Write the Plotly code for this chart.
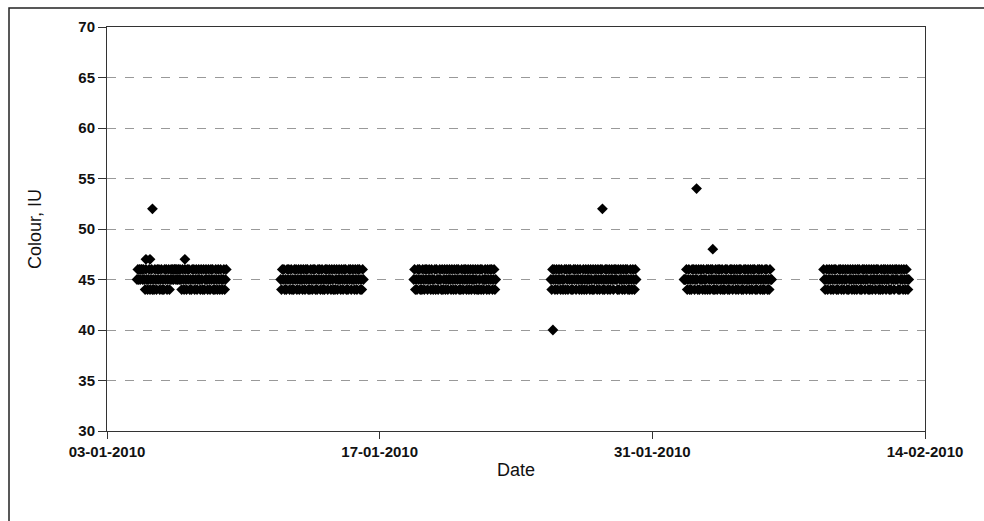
import datetime as dt
import plotly.graph_objects as go

# ---- data: hourly colour readings (IU), one list per weekly run ----
run_starts = ["2010-01-04 13:00", "2010-01-11 22:00", "2010-01-18 18:00",
              "2010-01-25 19:00", "2010-02-01 15:00", "2010-02-08 19:00"]
sample_step_hours = 1

run1 = [45,46,45,46,45,46,46,45,46,45,
        44,46,45,44,45,46,44,45,46,44,
        45,44,46,45,44,46,45,46,44,45,
        46,44,45,44,46,45,46,44,45,46,
        44,45,46,45,46,45,46,46,45,46,
        45,46,45,46,45,44,46,45,44,46,
        45,44,46,45,46,44,45,44,46,45,
        46,44,45,46,44,45,46,45,44,46,
        45,44,46,44,45,46,45,44,46,45,
        44,46,45,46,44,45,44,46,45,44,
        46,45,44,46,45,44,45,46,44,45,46]
run2 = [45,44,46,45,46,44,45,44,46,45,
        46,44,45,46,44,45,44,46,45,46,
        44,45,46,44,45,46,45,44,46,45,
        44,46,45,46,44,45,44,46,45,44,
        46,45,46,44,45,44,46,45,46,44,
        45,46,44,45,44,46,45,46,44,45,
        46,45,44,46,45,44,46,44,45,46,
        44,45,46,45,44,46,45,44,46,45,
        46,44,45,44,46,45,46,44,45,46,
        45,44,46,45,44,46,45,46,44,45,
        44,46,45]
run3 = [45,46,44,45,44,46,45,46,44,45,
        44,46,45,44,46,45,46,44,45,46,
        45,44,46,45,44,45,46,44,46,45,
        44,45,46,45,44,46,44,45,46,44,
        45,46,44,45,46,45,44,46,45,44,
        46,45,44,46,45,46,44,45,44,46,
        45,44,46,45,46,44,45,46,44,45,
        46,44,45,46,45,44,46,45,44,46,
        44,45,46,44,46,45,44,45,46,45,
        44,46,45,44,46,45,46,44,45,46,
        44,45]
run4 = [45,44,46,45,46,44,45,46,44,45,
        46,45,44,46,45,44,45,46,44,46,
        45,44,46,45,46,44,45,44,46,45,
        46,44,45,46,45,44,46,45,44,45,
        46,44,45,46,44,45,46,45,44,46,
        45,44,46,44,45,46,45,44,46,45,
        44,46,45,46,44,45,44,46,45,46,
        44,45,46,44,45,46,45,44,46,45,
        46,45,44,46,44,45,46,45,44,46,
        45,44,46,45,46,44,45,44,46,45,
        44,46,45,44,46,45]
run5 = [45,45,45,46,44,45,46,44,45,44,
        46,45,46,44,45,46,45,44,46,44,
        45,46,45,44,46,45,44,45,46,44,
        46,45,44,46,45,46,44,45,44,46,
        45,44,46,45,46,44,45,46,44,45,
        44,46,45,46,44,45,44,46,45,46,
        44,45,46,45,44,46,45,44,46,45,
        46,44,45,44,46,45,46,44,45,46,
        45,44,46,45,44,46,45,46,44,45,
        44,46,45,46,44,45,46,44,45,44,
        46,45,46,44,45,44,46,45,45]
run6 = [46,45,44,45,46,44,45,46,45,44,
        46,45,44,46,45,46,44,45,44,46,
        45,46,44,45,46,44,45,46,45,44,
        46,44,45,46,45,44,46,45,44,46,
        45,44,46,45,46,44,45,44,46,45,
        46,44,45,46,45,44,46,44,45,46,
        44,45,46,45,44,46,45,46,44,45,
        44,46,45,44,46,45,46,44,45,46,
        45,44,46,44,45,46,45,44,46,45,
        46,45,44,46,44,45,46,45,44,46,
        45,44,46,45,44,45]
runs = [run1, run2, run3, run4, run5, run6]

outlier_dates = ["2010-01-05 00:00", "2010-01-05 05:00", "2010-01-05 08:00",
                 "2010-01-07 00:00", "2010-01-25 21:30", "2010-01-28 10:30",
                 "2010-02-02 06:30", "2010-02-03 02:30"]
outlier_values = [47, 47, 52, 47, 40, 52, 54, 48]

x_tick_dates = ["2010-01-03", "2010-01-17", "2010-01-31", "2010-02-14"]
x_tick_labels = ["03-01-2010", "17-01-2010", "31-01-2010", "14-02-2010"]
y_ticks = [30, 35, 40, 45, 50, 55, 60, 65, 70]

# ---- assemble ----
xs, ys = [], []
for start, vals in zip(run_starts, runs):
    t0 = dt.datetime.strptime(start, "%Y-%m-%d %H:%M")
    for i, v in enumerate(vals):
        xs.append(t0 + dt.timedelta(hours=i * sample_step_hours))
        ys.append(v)
for d, v in zip(outlier_dates, outlier_values):
    xs.append(dt.datetime.strptime(d, "%Y-%m-%d %H:%M"))
    ys.append(v)

fig = go.Figure(go.Scatter(
    x=xs, y=ys, mode="markers",
    marker=dict(symbol="diamond", size=8.3, color="black",
                line=dict(width=0)),
    cliponaxis=False, showlegend=False))

W, H = 984, 521
L, R, T, B = 107, 59, 27, 90
pw, ph = W - L - R, H - T - B

tick_font = dict(family="Liberation Sans, Arial, sans-serif", size=15,
                 color="#111", weight="bold")
title_font = dict(family="Liberation Sans, Arial, sans-serif", size=18,
                  color="#111")

fig.update_layout(
    width=W, height=H,
    margin=dict(l=L, r=R, t=T, b=B, pad=0),
    paper_bgcolor="white", plot_bgcolor="white",
    font=dict(family="Liberation Sans, Arial, sans-serif", color="black"),
    xaxis=dict(
        type="date", range=["2010-01-03", "2010-02-14"],
        tickmode="array", tickvals=x_tick_dates, ticktext=x_tick_labels,
        ticks="outside", ticklen=7, tickcolor="#333", tickwidth=1,
        showline=True, linecolor="#333", linewidth=1, mirror=True,
        showgrid=False, zeroline=False,
        tickfont=tick_font,
        title=dict(text="Date", font=title_font, standoff=4),
    ),
    yaxis=dict(
        range=[30, 70], tickmode="array", tickvals=y_ticks,
        ticks="outside", ticklen=8, tickcolor="#333", tickwidth=1,
        showline=True, linecolor="#333", linewidth=1, mirror=True,
        showgrid=True, gridcolor="#999999", griddash="dash", gridwidth=1,
        zeroline=False,
        tickfont=tick_font,
        title=dict(text="Colour, IU", font=title_font, standoff=32),
    ),
    shapes=[dict(type="rect", xref="paper", yref="paper",
                 x0=(9 - L) / pw, x1=(W + 10 - L) / pw,
                 y0=(H - B - (H + 10)) / ph, y1=(H - B - 8) / ph,
                 line=dict(color="#222", width=1.5), fillcolor="rgba(0,0,0,0)",
                 layer="above")],
)

fig.write_html("out.html")
